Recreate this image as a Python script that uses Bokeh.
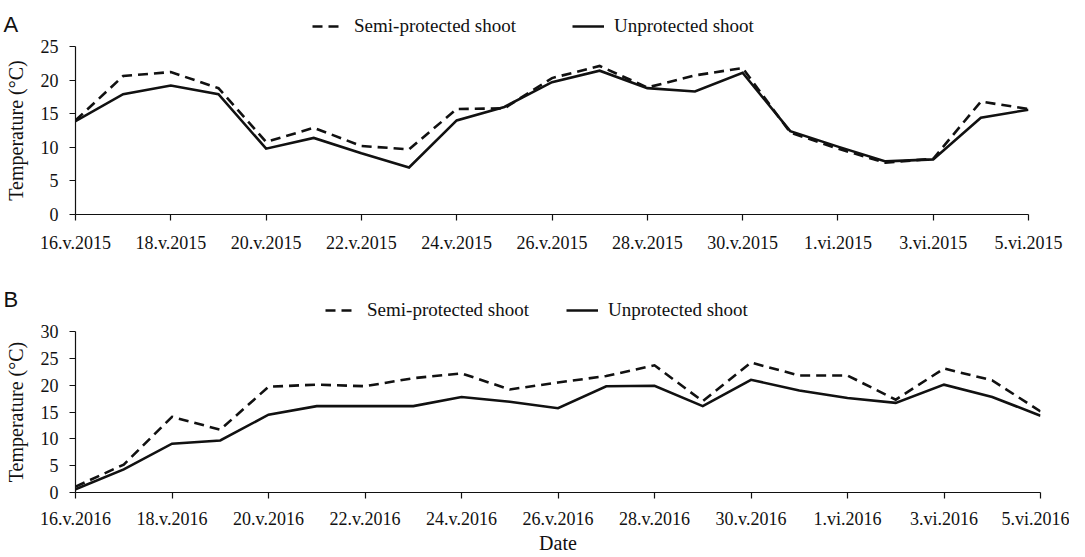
from bokeh.plotting import figure
from bokeh.layouts import column
from bokeh.models import Legend, LegendItem, Label, FixedTicker, Range1d
from bokeh.embed import file_html
from bokeh.resources import INLINE

# ---- data ----
day_index = list(range(21))  # 16.v ... 5.vi
tick_index = [0, 2, 4, 6, 8, 10, 12, 14, 16, 18, 20]
ticks_2015 = ["16.v.2015", "18.v.2015", "20.v.2015", "22.v.2015", "24.v.2015", "26.v.2015",
              "28.v.2015", "30.v.2015", "1.vi.2015", "3.vi.2015", "5.vi.2015"]
ticks_2016 = ["16.v.2016", "18.v.2016", "20.v.2016", "22.v.2016", "24.v.2016", "26.v.2016",
              "28.v.2016", "30.v.2016", "1.vi.2016", "3.vi.2016", "5.vi.2016"]

semi_2015 = [14.0, 20.6, 21.2, 18.8, 10.8, 12.9, 10.2, 9.7, 15.7, 15.8, 20.3,
             22.1, 18.9, 20.7, 21.8, 12.2, 9.8, 7.7, 8.3, 16.8, 15.7]
unprot_2015 = [13.9, 17.9, 19.2, 17.9, 9.8, 11.4, 9.1, 7.0, 14.0, 16.0, 19.7,
               21.4, 18.8, 18.3, 21.1, 12.4, 10.1, 7.9, 8.2, 14.4, 15.6]

semi_2016 = [1.1, 5.2, 14.1, 11.7, 19.7, 20.1, 19.8, 21.3, 22.2, 19.2, 20.5,
             21.7, 23.7, 17.0, 24.2, 21.8, 21.8, 17.3, 23.1, 20.9, 15.1]
unprot_2016 = [0.6, 4.3, 9.1, 9.7, 14.5, 16.1, 16.1, 16.1, 17.8, 16.9, 15.7,
               19.8, 19.9, 16.1, 21.0, 19.0, 17.6, 16.7, 20.1, 17.8, 14.3]

y_ticks_2015 = [0, 5, 10, 15, 20, 25]
y_ticks_2016 = [0, 5, 10, 15, 20, 25, 30]

series_names = ["Semi-protected shoot", "Unprotected shoot"]

SERIF = "Liberation Serif"
SANS = "Liberation Sans"
INK = "#111111"
W = 1069
DASH = "10 6"
LW = 2.6


def header(letter, semi, unprot, h, letter_y, leg_x, leg_spacing):
    """Row above a panel holding the panel letter and the legend.
    The series are drawn out of this row's view so only their legend samples show."""
    p = figure(width=W, height=h, output_backend="svg", toolbar_location=None,
               x_range=Range1d(100, 101), y_range=Range1d(100, 101),
               x_axis_type=None, y_axis_type=None, frame_align=False,
               min_border_left=0, min_border_right=0, min_border_top=0, min_border_bottom=0)
    p.outline_line_color = None
    p.xgrid.visible = False
    p.ygrid.visible = False
    r1 = p.line(day_index, semi, line_color=INK, line_width=LW, line_dash=DASH)
    r2 = p.line(day_index, unprot, line_color=INK, line_width=LW)
    legend = Legend(items=[LegendItem(label=series_names[0], renderers=[r1]),
                           LegendItem(label=series_names[1], renderers=[r2])],
                    location=(leg_x, 0), orientation="horizontal",
                    glyph_width=32, glyph_height=20, label_standoff=10,
                    spacing=leg_spacing, padding=0, margin=0,
                    border_line_alpha=0, background_fill_alpha=0,
                    label_text_font=SERIF, label_text_font_size="19px",
                    label_text_color=INK)
    p.add_layout(legend)
    p.add_layout(Label(x=3, y=letter_y, x_units="screen", y_units="screen", text=letter,
                       text_font=SANS, text_font_size="22px", text_color=INK,
                       text_baseline="alphabetic", text_align="left"))
    return p


def panel(semi, unprot, xlabels, yticks, ymax, h, b_right, b_top, b_bottom,
          x_standoff, xlabel=None):
    p = figure(width=W, height=h, output_backend="svg", toolbar_location=None,
               x_range=Range1d(0, 20), y_range=Range1d(0, ymax), frame_align=False,
               min_border_left=75, min_border_right=b_right,
               min_border_top=b_top, min_border_bottom=b_bottom)
    p.outline_line_color = None
    p.xgrid.visible = False
    p.ygrid.visible = False

    p.line(day_index, semi, line_color=INK, line_width=LW, line_dash=DASH, line_join="miter")
    p.line(day_index, unprot, line_color=INK, line_width=LW, line_join="miter")

    for ax in (p.xaxis[0], p.yaxis[0]):
        ax.axis_line_color = INK
        ax.axis_line_width = 1.2
        ax.major_tick_line_color = INK
        ax.major_tick_line_width = 1.2
        ax.major_tick_in = 0
        ax.major_tick_out = 6
        ax.minor_tick_in = 0
        ax.minor_tick_out = 0
        ax.major_label_text_font = SERIF
        ax.major_label_text_font_size = "18px"
        ax.major_label_text_color = INK
        ax.axis_label_text_font = SERIF
        ax.axis_label_text_font_size = "20px"
        ax.axis_label_text_font_style = "normal"
        ax.axis_label_text_color = INK

    p.xaxis.ticker = FixedTicker(ticks=tick_index)
    p.xaxis.major_label_overrides = {i: s for i, s in zip(tick_index, xlabels)}
    p.xaxis.major_label_standoff = x_standoff
    p.yaxis.ticker = FixedTicker(ticks=yticks)
    p.yaxis.major_label_standoff = 11
    p.yaxis.axis_label = "Temperature (°C)"
    p.yaxis.axis_label_standoff = 11
    if xlabel:
        p.xaxis.axis_label = xlabel
        p.xaxis.axis_label_standoff = 0
    return p


hA = header("A", semi_2015, unprot_2015, 37, letter_y=13, leg_x=312, leg_spacing=56)
pA = panel(semi_2015, unprot_2015, ticks_2015, y_ticks_2015, 25, 236,
           b_right=41, b_top=9, b_bottom=59, x_standoff=12)
hB = header("B", semi_2016, unprot_2016, 48, letter_y=22, leg_x=325, leg_spacing=37)
pB = panel(semi_2016, unprot_2016, ticks_2016, y_ticks_2016, 30, 235,
           b_right=29, b_top=10, b_bottom=63, x_standoff=10, xlabel="Date")

layout = column(hA, pA, hB, pB, spacing=0)
open("out.html", "w").write(file_html(layout, INLINE))
